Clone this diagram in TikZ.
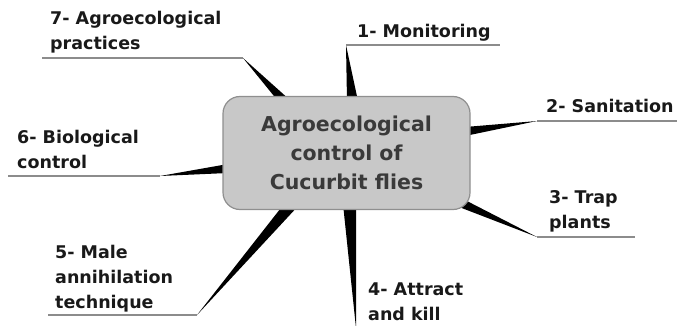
\documentclass[tikz,border=0pt]{standalone}
\usepackage{fontspec}
\setmainfont{DejaVu Sans}
\definecolor{boxfill}{HTML}{C8C8C8}
\definecolor{boxline}{HTML}{8F8F8F}
\definecolor{ctext}{HTML}{3A3A3A}
\definecolor{uline}{HTML}{8C8C8C}
\tikzset{
  spike/.style={fill=black},
  underline/.style={draw=uline,line width=1.3pt},
  lab/.style={anchor=base west,inner sep=0pt,align=left,font=\bfseries\fontsize{17.5}{25}\selectfont,text=black!90},
  centerbox/.style={draw=boxline,fill=boxfill,line width=1.2pt,rounded corners=17pt,minimum width=247pt,minimum height=113pt,align=center,text=ctext,font=\bfseries\fontsize{20.5}{29}\selectfont,inner sep=0pt}
}
\begin{document}
\begin{tikzpicture}[x=1pt,y=-1pt]
\useasboundingbox (0,0) rectangle (677,326);
% tips and far ends
\coordinate (t1) at (346,45);  \coordinate (e1) at (500,45);
\coordinate (t2) at (537,121); \coordinate (e2) at (677,121);
\coordinate (t3) at (537,237); \coordinate (e3) at (635,237);
\coordinate (t4) at (356,328);
\coordinate (t5) at (197,315); \coordinate (e5) at (48,315);
\coordinate (t6) at (160,176); \coordinate (e6) at (8,176);
\coordinate (t7) at (243,58);  \coordinate (e7) at (42,58);
% bases inside the box
\coordinate (a1) at (347,101); \coordinate (b1) at (358,101);
\coordinate (a2) at (465,127); \coordinate (b2) at (465,136);
\coordinate (a3) at (463,199); \coordinate (b3) at (459,207);
\coordinate (a4) at (343,204); \coordinate (b4) at (356,204);
\coordinate (a5) at (284,204); \coordinate (b5) at (300,204);
\coordinate (a6) at (228,164); \coordinate (b6) at (228,173);
\coordinate (a7) at (278,101); \coordinate (b7) at (291,101);
\foreach \i in {1,...,7} {\fill[spike] (a\i) -- (t\i) -- (b\i) -- cycle;}
\foreach \i in {1,2,3,5,6,7} {\draw[underline] (t\i) -- (e\i);}
\node[centerbox] (c) at (346.5,153) {Agroecological\\control of\\Cucurbit flies};
\node[lab] (l1) at (357,38) {1- Monitoring};
\node[lab] (l2) at (546,113) {2- Sanitation};
\node[lab] (l3) at (549,228) {3- Trap\\plants};
\node[lab] (l4) at (368,320) {4- Attract\\and kill};
\node[lab] (l5) at (55,308) {5- Male\\annihilation\\technique};
\node[lab] (l6) at (17,168) {6- Biological\\control};
\node[lab] (l7) at (50,50) {7- Agroecological\\practices};
\end{tikzpicture}
\end{document}
